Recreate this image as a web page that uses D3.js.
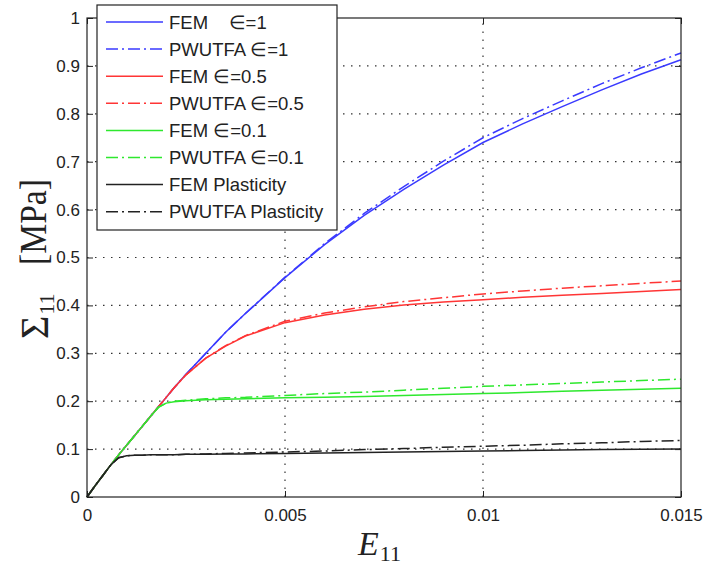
<!DOCTYPE html>
<html lang="en">
<head>
  <meta charset="UTF-8">
  <title>Sigma11 vs E11</title>
  <script src="https://d3js.org/d3.v7.min.js"></script>
  <style>
    body {
      margin: 0;
      background: #fff;
    }
    svg text {
      font-family: "Liberation Sans", Arial, sans-serif;
    }
  </style>
</head>
<body>
  <svg id="chart" width="703" height="569"></svg>

  <script>
    // strain values (x) shared by every curve
    const strain = [0, 0.0002, 0.0004, 0.0006, 0.0008, 0.001, 0.0012, 0.0014, 0.0016, 0.0018,
      0.002, 0.0022, 0.0025, 0.003, 0.0035, 0.004, 0.005, 0.006, 0.007, 0.008,
      0.009, 0.01, 0.011, 0.012, 0.013, 0.014, 0.015];

    const femEps1 = [0, 0.023, 0.045, 0.067, 0.088, 0.108, 0.128, 0.148, 0.168, 0.188,
      0.208, 0.228, 0.256, 0.300, 0.344, 0.383, 0.458, 0.527, 0.588, 0.642,
      0.693, 0.740, 0.779, 0.815, 0.850, 0.883, 0.913];
    const pwuEps1 = [0, 0.023, 0.045, 0.067, 0.088, 0.108, 0.128, 0.148, 0.168, 0.188,
      0.208, 0.228, 0.256, 0.300, 0.344, 0.383, 0.459, 0.529, 0.592, 0.648,
      0.701, 0.750, 0.790, 0.827, 0.863, 0.896, 0.927];

    const femEps05 = [0, 0.023, 0.045, 0.067, 0.088, 0.108, 0.128, 0.148, 0.168, 0.188,
      0.208, 0.228, 0.255, 0.290, 0.315, 0.336, 0.364, 0.380, 0.392, 0.401,
      0.407, 0.412, 0.417, 0.421, 0.425, 0.429, 0.433];
    const pwuEps05 = [0, 0.023, 0.045, 0.067, 0.088, 0.108, 0.128, 0.148, 0.168, 0.188,
      0.208, 0.228, 0.255, 0.290, 0.316, 0.337, 0.367, 0.384, 0.397, 0.408,
      0.416, 0.424, 0.430, 0.436, 0.441, 0.446, 0.451];

    const femEps01 = [0, 0.023, 0.045, 0.067, 0.088, 0.108, 0.128, 0.148, 0.168, 0.187,
      0.196, 0.199, 0.201, 0.203, 0.204, 0.205, 0.207, 0.208, 0.210, 0.212,
      0.214, 0.216, 0.218, 0.221, 0.223, 0.225, 0.227];
    const pwuEps01 = [0, 0.023, 0.045, 0.067, 0.088, 0.108, 0.128, 0.148, 0.168, 0.187,
      0.196, 0.200, 0.202, 0.205, 0.207, 0.208, 0.212, 0.216, 0.219, 0.223,
      0.227, 0.231, 0.234, 0.237, 0.240, 0.243, 0.246];

    const femPlast = [0, 0.023, 0.045, 0.067, 0.082, 0.086, 0.087, 0.087, 0.088, 0.088,
      0.088, 0.088, 0.089, 0.089, 0.090, 0.090, 0.091, 0.092, 0.093, 0.094,
      0.095, 0.096, 0.097, 0.098, 0.099, 0.0995, 0.100];
    const pwuPlast = [0, 0.023, 0.045, 0.067, 0.082, 0.086, 0.087, 0.087, 0.088, 0.088,
      0.088, 0.088, 0.089, 0.090, 0.091, 0.092, 0.094, 0.096, 0.099, 0.101,
      0.104, 0.106, 0.108, 0.111, 0.113, 0.116, 0.118];

    const xTicks = [0, 0.005, 0.01, 0.015];
    const xTickLabels = ["0", "0.005", "0.01", "0.015"];
    const yTicks = [0, 0.1, 0.2, 0.3, 0.4, 0.5, 0.6, 0.7, 0.8, 0.9, 1];
    const yTickLabels = ["0", "0.1", "0.2", "0.3", "0.4", "0.5", "0.6", "0.7", "0.8", "0.9", "1"];

    const series = [
      { label: "FEM    \u2208=1", values: femEps1, color: "#3a3aff", dash: null },
      { label: "PWUTFA \u2208=1", values: pwuEps1, color: "#3a3aff", dash: "12,4,2,4" },
      { label: "FEM \u2208=0.5", values: femEps05, color: "#ff3535", dash: null },
      { label: "PWUTFA \u2208=0.5", values: pwuEps05, color: "#ff3535", dash: "12,4,2,4" },
      { label: "FEM \u2208=0.1", values: femEps01, color: "#2ee82e", dash: null },
      { label: "PWUTFA \u2208=0.1", values: pwuEps01, color: "#2ee82e", dash: "12,4,2,4" },
      { label: "FEM Plasticity", values: femPlast, color: "#222", dash: null },
      { label: "PWUTFA Plasticity", values: pwuPlast, color: "#222", dash: "12,4,2,4" }
    ];

    const svg = d3.select("#chart");
    const pLeft = 87, pRight = 681, pTop = 18, pBottom = 497;
    const serif = "'Liberation Serif', 'Times New Roman', serif";

    const x = d3.scaleLinear().domain([0, 0.015]).range([pLeft, pRight]);
    const y = d3.scaleLinear().domain([0, 1]).range([pBottom, pTop]);

    // dotted grid
    const grid = svg.append("g")
      .attr("stroke", "#333")
      .attr("stroke-width", 1.2)
      .attr("stroke-dasharray", "1.5,6.5");
    grid.selectAll("line.gx")
      .data(xTicks.slice(1, -1))
      .join("line")
      .attr("class", "gx")
      .attr("x1", d => x(d)).attr("x2", d => x(d))
      .attr("y1", pBottom).attr("y2", pTop);
    grid.selectAll("line.gy")
      .data(yTicks.slice(1, -1))
      .join("line")
      .attr("class", "gy")
      .attr("y1", d => y(d)).attr("y2", d => y(d))
      .attr("x1", pLeft).attr("x2", pRight);

    // curves
    const line = d3.line()
      .x((d, i) => x(strain[i]))
      .y(d => y(d));

    svg.append("g")
      .selectAll("path")
      .data(series)
      .join("path")
      .attr("d", d => line(d.values))
      .attr("fill", "none")
      .attr("stroke", d => d.color)
      .attr("stroke-width", 1.5)
      .attr("stroke-dasharray", d => d.dash);

    // axes (ticks point inward, box on all sides)
    const tickStyle = g => {
      g.select(".domain").remove();
      g.selectAll(".tick line").attr("stroke", "#222");
      g.selectAll(".tick text").attr("font-size", 17).attr("fill", "#222");
    };

    svg.append("g")
      .attr("transform", `translate(0,${pBottom})`)
      .call(d3.axisBottom(x).tickValues(xTicks).tickFormat((d, i) => xTickLabels[i])
        .tickSizeInner(-6).tickSizeOuter(0).tickPadding(12))
      .call(tickStyle);
    svg.append("g")
      .attr("transform", `translate(0,${pTop})`)
      .call(d3.axisTop(x).tickValues(xTicks).tickFormat("")
        .tickSizeInner(-6).tickSizeOuter(0))
      .call(tickStyle);
    svg.append("g")
      .attr("transform", `translate(${pLeft},0)`)
      .call(d3.axisLeft(y).tickValues(yTicks).tickFormat((d, i) => yTickLabels[i])
        .tickSizeInner(-6).tickSizeOuter(0).tickPadding(7))
      .call(tickStyle);
    svg.append("g")
      .attr("transform", `translate(${pRight},0)`)
      .call(d3.axisRight(y).tickValues(yTicks).tickFormat("")
        .tickSizeInner(-6).tickSizeOuter(0))
      .call(tickStyle);

    svg.append("rect")
      .attr("x", pLeft).attr("y", pTop)
      .attr("width", pRight - pLeft).attr("height", pBottom - pTop)
      .attr("fill", "none")
      .attr("stroke", "#222")
      .attr("stroke-width", 1.2);

    // axis labels
    const xl = svg.append("text")
      .attr("x", 358).attr("y", 555)
      .style("font-family", serif)
      .attr("font-size", 34)
      .attr("fill", "#222");
    xl.append("tspan").attr("font-style", "italic").text("E");
    xl.append("tspan").attr("font-size", 22).attr("dy", 6).attr("dx", 1).text("11");

    const yl = svg.append("text")
      .attr("transform", "translate(48,339) rotate(-90)")
      .style("font-family", serif)
      .attr("font-size", 40)
      .attr("fill", "#222");
    yl.append("tspan").text("\u03A3");
    yl.append("tspan").attr("font-size", 22).attr("dy", 6).attr("dx", 1).text("11");

    svg.append("text")
      .attr("transform", "translate(46,179) rotate(-90)")
      .attr("text-anchor", "end")
      .style("font-family", serif)
      .attr("font-size", 37)
      .attr("textLength", 86)
      .attr("lengthAdjust", "spacingAndGlyphs")
      .attr("fill", "#222")
      .text("[MPa]");

    // legend
    const legend = svg.append("g");
    legend.append("rect")
      .attr("x", 97).attr("y", 5)
      .attr("width", 240).attr("height", 225)
      .attr("fill", "#fff")
      .attr("stroke", "#222")
      .attr("stroke-width", 1.2);

    const rows = legend.selectAll("g.row")
      .data(series)
      .join("g")
      .attr("class", "row")
      .attr("transform", (d, i) => `translate(0,${22 + i * 27.1})`);
    rows.append("line")
      .attr("x1", 106).attr("x2", 163)
      .attr("stroke", d => d.color)
      .attr("stroke-width", 1.5)
      .attr("stroke-dasharray", d => d.dash);
    rows.append("text")
      .attr("x", 169).attr("y", 6.5)
      .attr("font-size", 18.5)
      .attr("fill", "#222")
      .style("white-space", "pre")
      .text(d => d.label);
  </script>
</body>
</html>
